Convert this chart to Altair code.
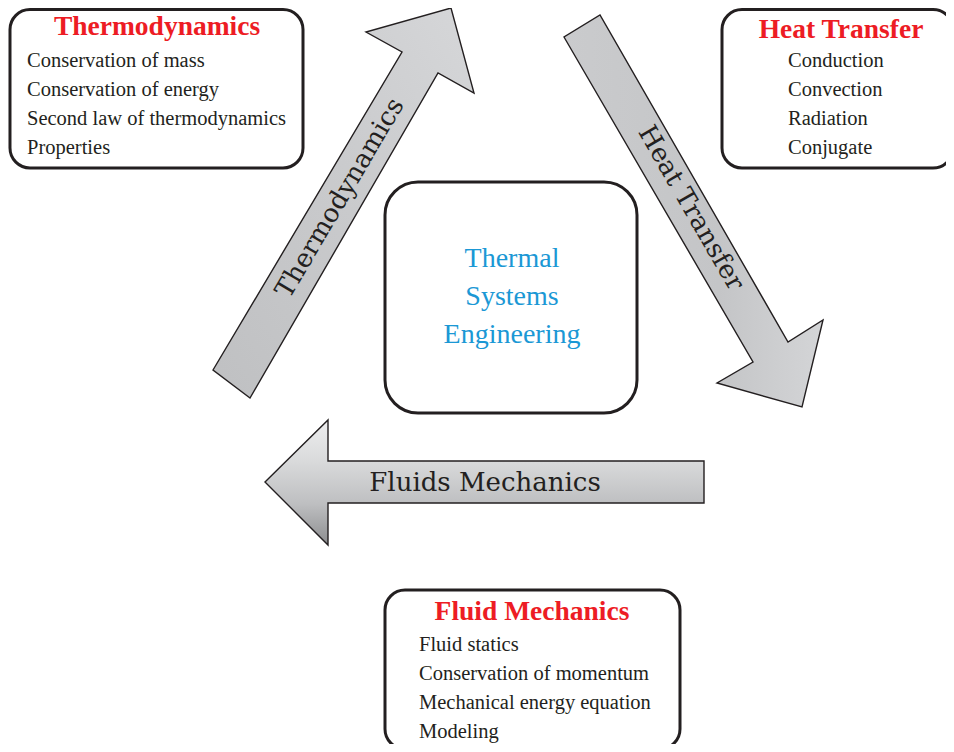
import altair as alt
import pandas as pd

# ---------------- content ----------------
box_titles = ["Thermodynamics", "Heat Transfer", "Fluid Mechanics"]
thermo_items = ["Conservation of mass", "Conservation of energy",
                "Second law of thermodynamics", "Properties"]
heat_items = ["Conduction", "Convection", "Radiation", "Conjugate"]
fluid_items = ["Fluid statics", "Conservation of momentum",
               "Mechanical energy equation", "Modeling"]
center_lines = ["Thermal", "Systems", "Engineering"]
arrow_labels = ["Thermodynamics", "Heat Transfer", "Fluids Mechanics"]

# ---------------- layout (diagram coordinates, px of the reference) ----------------
boxes = {  # x0, x1, y0, y1
    "Thermodynamics": (10, 303, 9.5, 168),
    "Heat Transfer": (722, 953, 9.5, 168),
    "Fluid Mechanics": (385, 680, 590, 749),
}
center_box = (385, 637, 182, 413)

title_pos = {"Thermodynamics": (157, 35), "Heat Transfer": (841, 38), "Fluid Mechanics": (532, 620)}
item_left = {"Thermodynamics": 27, "Heat Transfer": 788, "Fluid Mechanics": 419}
item_base = {"Thermodynamics": 67, "Heat Transfer": 67, "Fluid Mechanics": 651}
item_step = 29
center_text_x, center_text_y0, center_text_step = 512, 267, 38

arrow_shapes = {
    "Thermodynamics": [(213, 370), (402, 52), (366, 32), (451, 8), (474, 93), (438, 73), (250, 398)],
    "Heat Transfer": [(564, 37), (753, 362), (717, 383), (802, 407), (823, 320), (788, 342), (600, 15)],
    "Fluids Mechanics": [(265, 482), (328, 420), (328, 461), (704, 461), (704, 503), (328, 503), (328, 545)],
}
arrow_label_pos = {
    "Thermodynamics": (340, 198, 300.5),
    "Heat Transfer": (691, 208, 60),
    "Fluids Mechanics": (485, 483, 0),
}
arrow_gradients = {
    "Thermodynamics": dict(x1=0, y1=1, x2=1, y2=0,
                           stops=[(0, "#bfc0c2"), (0.6, "#cbccce"), (1, "#d6d7d9")]),
    "Heat Transfer": dict(x1=0, y1=0, x2=1, y2=0,
                          stops=[(0, "#cacbcd"), (0.6, "#c4c5c7"), (1, "#d4d5d7")]),
    "Fluids Mechanics": dict(x1=0, y1=0, x2=0, y2=1,
                             stops=[(0, "#eeeeef"), (0.33, "#d9dadb"), (0.67, "#bebfc1"), (1, "#8c8d8f")]),
}

W, H = 938, 736
xs = alt.Scale(domain=[8, 946], nice=False, zero=False)
ys = alt.Scale(domain=[8, 744], nice=False, zero=False, reverse=True)

INK = "#231f20"
RED = "#ed1c24"
BLUE = "#1b98d5"
SERIF = "Liberation Serif"
SLAB = "DejaVu Serif"


def X(f):
    return alt.X(f"{f}:Q", scale=xs, axis=None)


def Y(f):
    return alt.Y(f"{f}:Q", scale=ys, axis=None)


layers = []

# arrows
for name in arrow_labels:
    pts = arrow_shapes[name]
    df = pd.DataFrame({"i": range(len(pts)), "x": [p[0] for p in pts], "y": [p[1] for p in pts]})
    g = arrow_gradients[name]
    grad = alt.LinearGradient(
        gradient="linear",
        stops=[alt.GradientStop(offset=o, color=c) for o, c in g["stops"]],
        x1=g["x1"], y1=g["y1"], x2=g["x2"], y2=g["y2"],
    )
    layers.append(
        alt.Chart(df).mark_line(interpolate="linear-closed", fill=grad, stroke=INK,
                                strokeWidth=1.4, strokeJoin="miter", clip=False)
        .encode(x=X("x"), y=Y("y"), order=alt.Order("i:Q"))
    )

# boxes
bdf = pd.DataFrame([{"name": k, "x0": v[0], "x1": v[1], "y0": v[2], "y1": v[3]} for k, v in boxes.items()])
layers.append(
    alt.Chart(bdf).mark_rect(fill="white", stroke=INK, strokeWidth=3, cornerRadius=20, clip=False)
    .encode(x=X("x0"), x2="x1", y=Y("y0"), y2="y1")
)
cdf = pd.DataFrame([{"x0": center_box[0], "x1": center_box[1], "y0": center_box[2], "y1": center_box[3]}])
layers.append(
    alt.Chart(cdf).mark_rect(fill="white", stroke=INK, strokeWidth=3, cornerRadius=33, clip=False)
    .encode(x=X("x0"), x2="x1", y=Y("y0"), y2="y1")
)

# titles
tdf = pd.DataFrame([{"t": t, "x": title_pos[t][0], "y": title_pos[t][1]} for t in box_titles])
layers.append(
    alt.Chart(tdf).mark_text(font=SERIF, fontSize=27.5, fontWeight="bold", color=RED,
                             align="center", baseline="alphabetic")
    .encode(x=X("x"), y=Y("y"), text="t:N")
)

# item lists
rows = []
for title, items in zip(box_titles, [thermo_items, heat_items, fluid_items]):
    for k, it in enumerate(items):
        rows.append({"t": it, "x": item_left[title], "y": item_base[title] + k * item_step})
idf = pd.DataFrame(rows)
layers.append(
    alt.Chart(idf).mark_text(font=SERIF, fontSize=20.5, color=INK, align="left", baseline="alphabetic")
    .encode(x=X("x"), y=Y("y"), text="t:N")
)

# center text
ctdf = pd.DataFrame([{"t": t, "x": center_text_x, "y": center_text_y0 + k * center_text_step}
                     for k, t in enumerate(center_lines)])
layers.append(
    alt.Chart(ctdf).mark_text(font=SERIF, fontSize=28, color=BLUE, align="center", baseline="alphabetic")
    .encode(x=X("x"), y=Y("y"), text="t:N")
)

# arrow labels
adf = pd.DataFrame([{"t": t, "x": arrow_label_pos[t][0], "y": arrow_label_pos[t][1],
                     "a": arrow_label_pos[t][2]} for t in arrow_labels])
layers.append(
    alt.Chart(adf).mark_text(font=SLAB, fontSize=26, color=INK, align="center", baseline="middle")
    .encode(x=X("x"), y=Y("y"), text="t:N", angle=alt.Angle("a:Q", scale=None))
)

chart = (
    alt.layer(*layers)
    .properties(width=W, height=H, padding=0, autosize="none")
    .configure_view(stroke=None)
)

chart.save("out.html", embed_options={"renderer": "svg", "actions": False})
